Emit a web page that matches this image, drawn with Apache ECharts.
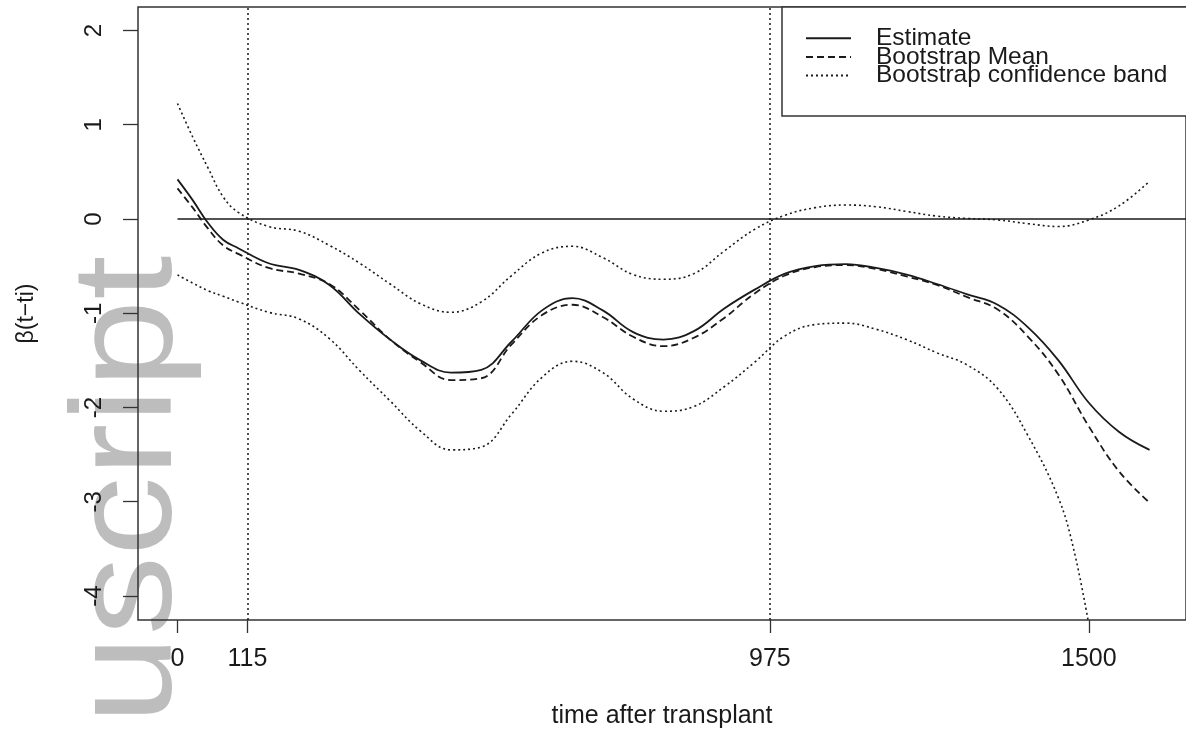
<!DOCTYPE html>
<html>
<head>
<meta charset="utf-8">
<script src="https://cdn.jsdelivr.net/npm/echarts@6/dist/echarts.min.js"></script>
<style>
  html, body { margin: 0; padding: 0; background: #fff; }
  #chart { width: 1186px; height: 734px; }
</style>
</head>
<body>
<div id="chart"></div>
<script>
// time after transplant (days)
const timePoints = [0, 25, 50, 75, 100, 150, 200, 250, 300, 350, 400, 450, 500, 550, 600, 650, 700, 750, 800,
  850, 900, 950, 1000, 1050, 1100, 1150, 1200, 1250, 1300, 1350, 1400, 1450, 1500, 1550, 1600]

const estimate = [0.42, 0.2, -0.04, -0.22, -0.31, -0.47, -0.54, -0.70, -1.01, -1.28, -1.50, -1.63, -1.60, -1.30, -0.97,
  -0.84, -0.97, -1.20, -1.28, -1.19, -0.95, -0.75, -0.58, -0.50, -0.48, -0.52, -0.59, -0.69, -0.80, -0.91,
  -1.15, -1.50, -1.95, -2.26, -2.45]

const bootMean = [0.325, 0.12, -0.10, -0.28, -0.37, -0.52, -0.58, -0.69, -0.97, -1.28, -1.52, -1.71, -1.69, -1.33, -1.02,
  -0.91, -1.04, -1.25, -1.35, -1.26, -1.05, -0.79, -0.60, -0.51, -0.49, -0.53, -0.61, -0.70, -0.83, -0.96,
  -1.25, -1.65, -2.20, -2.68, -3.01]

const bandUpper = [1.225, 0.87, 0.545, 0.236, 0.07, -0.08, -0.13, -0.28, -0.47, -0.69, -0.90, -0.99, -0.88, -0.60, -0.36,
  -0.29, -0.41, -0.59, -0.64, -0.58, -0.34, -0.11, 0.04, 0.12, 0.148, 0.13, 0.08, 0.03, 0.005, -0.01,
  -0.05, -0.08, -0.01, 0.14, 0.40]

const lowerTimePoints = [0, 25, 50, 75, 100, 150, 200, 250, 300, 350, 400, 450, 500, 550, 600, 650, 700, 750, 800,
  850, 900, 950, 1000, 1050, 1100, 1150, 1200, 1250, 1300, 1350, 1400, 1450, 1475, 1500]
const bandLower = [-0.593, -0.68, -0.76, -0.82, -0.88, -0.99, -1.06, -1.27, -1.61, -1.93, -2.25, -2.45, -2.42, -2.07, -1.68,
  -1.51, -1.63, -1.91, -2.04, -1.99, -1.78, -1.52, -1.24, -1.12, -1.105, -1.17, -1.28, -1.42, -1.55, -1.80,
  -2.30, -2.96, -3.50, -4.30]

const xTicks = [0, 115, 975, 1500]
const yTicks = [-4, -3, -2, -1, 0, 1, 2]
const cutPoints = [115, 975]

const font = '"Liberation Sans", Arial, sans-serif'
const ink = '#1a1a1a'

const pairs = (xs, ys) => xs.map((x, i) => [x, ys[i]])

const chart = echarts.init(document.getElementById('chart'))

const curve = (name, xs, ys, type, width) => ({
  name,
  type: 'line',
  data: pairs(xs, ys),
  symbol: 'none',
  smooth: 0.4,
  lineStyle: { color: ink, width, type },
  itemStyle: { color: ink },
  z: 3,
})

const option = {
  animation: false,
  backgroundColor: '#fff',
  grid: {
    left: 138, top: 7, right: -6, bottom: 113,
    show: true, borderColor: '#333', borderWidth: 1.5,
    backgroundColor: 'transparent',
  },
  graphic: [{
    type: 'text',
    x: 203,
    y: 724,
    rotation: Math.PI / 2,
    scaleX: 1.12,
    z: -10,
    silent: true,
    style: {
      text: 'uscript',
      font: '142px ' + font,
      fill: '#bdbdbd',
      textAlign: 'left',
      textVerticalAlign: 'bottom',
    },
  }],
  legend: {
    data: ['Estimate', 'Bootstrap Mean', 'Bootstrap confidence band'],
    orient: 'vertical',
    left: 782,
    top: 7,
    padding: [18.7, 60, 27.9, 23],
    itemGap: -6.3,
    itemWidth: 45,
    itemHeight: 18,
    borderColor: '#333',
    borderWidth: 1.5,
    backgroundColor: '#fff',
    selectedMode: false,
    itemStyle: { opacity: 0 },
    textStyle: {
      fontFamily: font,
      fontSize: 24.5,
      color: ink,
      padding: [0, 0, 0, 20],
    },
  },
  xAxis: {
    type: 'value',
    min: -65,
    max: 1660,
    name: 'time after transplant',
    nameLocation: 'middle',
    nameGap: 84,
    nameTextStyle: { fontFamily: font, fontSize: 25, color: ink },
    axisLine: { show: false, onZero: false },
    splitLine: { show: false },
    axisTick: { show: true, length: 13, customValues: xTicks, lineStyle: { color: '#333', width: 1.3 } },
    axisLabel: {
      customValues: xTicks, margin: 27, fontFamily: font, fontSize: 25, color: ink,
      formatter: v => String(v),
    },
  },
  yAxis: {
    type: 'value',
    min: -4.255,
    max: 2.249,
    name: 'β(t−ti)',
    nameLocation: 'middle',
    nameGap: 100,
    nameRotate: 90,
    nameTextStyle: { fontFamily: font, fontSize: 23, color: ink },
    axisLine: { show: false, onZero: false },
    splitLine: { show: false },
    axisTick: { show: true, length: 15, customValues: yTicks, lineStyle: { color: '#333', width: 1.3 } },
    axisLabel: {
      customValues: yTicks, rotate: 90, margin: 32, fontFamily: font, fontSize: 24, color: ink,
      formatter: v => String(v),
    },
  },
  series: [
    curve('Estimate', timePoints, estimate, 'solid', 1.8),
    curve('Bootstrap Mean', timePoints, bootMean, [7, 4], 1.8),
    curve('Bootstrap confidence band', timePoints, bandUpper, [2, 3], 1.6),
    curve('Bootstrap confidence band', lowerTimePoints, bandLower, [2, 3], 1.6),
    {
      name: 'zero',
      type: 'line',
      data: [[0, 0], [1660, 0]],
      symbol: 'none',
      lineStyle: { color: ink, width: 1.5 },
      z: 2,
      markLine: {
        silent: true,
        symbol: 'none',
        label: { show: false },
        lineStyle: { color: ink, width: 1.5, type: [2, 3] },
        data: cutPoints.map(v => ({ xAxis: v })),
      },
    },
  ],
}

chart.setOption(option)
</script>
</body>
</html>
